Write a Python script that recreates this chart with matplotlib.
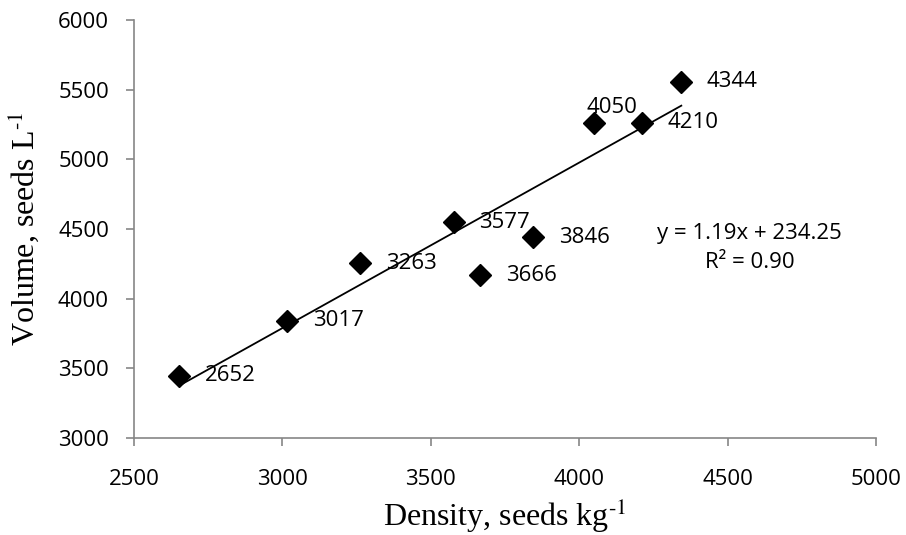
import numpy as np
import matplotlib
matplotlib.use("Agg")
import matplotlib.pyplot as plt

# ---- data ----
density = [2652, 3017, 3263, 3577, 3666, 3846, 4050, 4210, 4344]
volume = [3445, 3842, 4254, 4548, 4168, 4440, 5263, 5263, 5557]
point_labels = ["2652", "3017", "3263", "3577", "3666", "3846", "4050", "4210", "4344"]

x_ticks = [2500, 3000, 3500, 4000, 4500, 5000]
y_ticks = [3000, 3500, 4000, 4500, 5000, 5500, 6000]

eq_text = "y = 1.19x + 234.25"
r2_text = "R² = 0.90"

# ---- fonts ----
plt.rcParams['mathtext.fontset'] = 'stix'
tick_font = 'Open Sans'
title_font = 'Liberation Serif'
axis_gray = '#868686'

fig = plt.figure(figsize=(9.06, 5.35), dpi=100)
ax = fig.add_axes([134 / 906, 97 / 535, 742 / 906, 418 / 535])

# scatter points
ax.plot(density, volume, linestyle='none', marker='D', markersize=11.5,
        color='black', zorder=3)

# linear trend line (least squares, drawn over the data range)
slope, intercept = np.polyfit(density, volume, 1)
xs = np.array([min(density), max(density)])
ax.plot(xs, slope * xs + intercept, color='black', linewidth=1.3, zorder=2)

# point labels (right of marker; 4050 sits above)
for x, y, lab in zip(density, volume, point_labels):
    if lab == "4050":
        ax.annotate(lab, (x, y), xytext=(13, 11), textcoords='offset points',
                    ha='center', va='center', fontsize=16, family=tick_font)
    else:
        ax.annotate(lab, (x, y), xytext=(18.5, 0), textcoords='offset points',
                    ha='left', va='center', fontsize=16, family=tick_font)

# regression equation
ax.text(0.830, 0.490, eq_text, transform=ax.transAxes, ha='center', va='center',
        fontsize=16, family=tick_font)
ax.text(0.830, 0.419, r2_text, transform=ax.transAxes, ha='center', va='center',
        fontsize=16, family=tick_font)

# axes styling
ax.set_xlim(2500, 5000)
ax.set_ylim(3000, 6000)
ax.set_xticks(x_ticks)
ax.set_yticks(y_ticks)
ax.set_xticklabels([str(t) for t in x_ticks], fontsize=16, family=tick_font)
ax.set_yticklabels([str(t) for t in y_ticks], fontsize=16, family=tick_font)

for side in ['top', 'right']:
    ax.spines[side].set_visible(False)
for side in ['left', 'bottom']:
    ax.spines[side].set_color(axis_gray)
    ax.spines[side].set_linewidth(1.2)

ax.tick_params(axis='both', direction='out', length=6, width=1.2, color=axis_gray)
ax.tick_params(axis='y', pad=12)
ax.tick_params(axis='x', pad=16)

ax.set_xlabel(r"Density, seeds kg$^{\text{-}1}$", fontsize=23, family=title_font,
              labelpad=5)
ax.set_ylabel(r"Volume, seeds L$^{\text{-}1}$", fontsize=23, family=title_font,
              labelpad=12)

fig.savefig("out.png", dpi=100)
